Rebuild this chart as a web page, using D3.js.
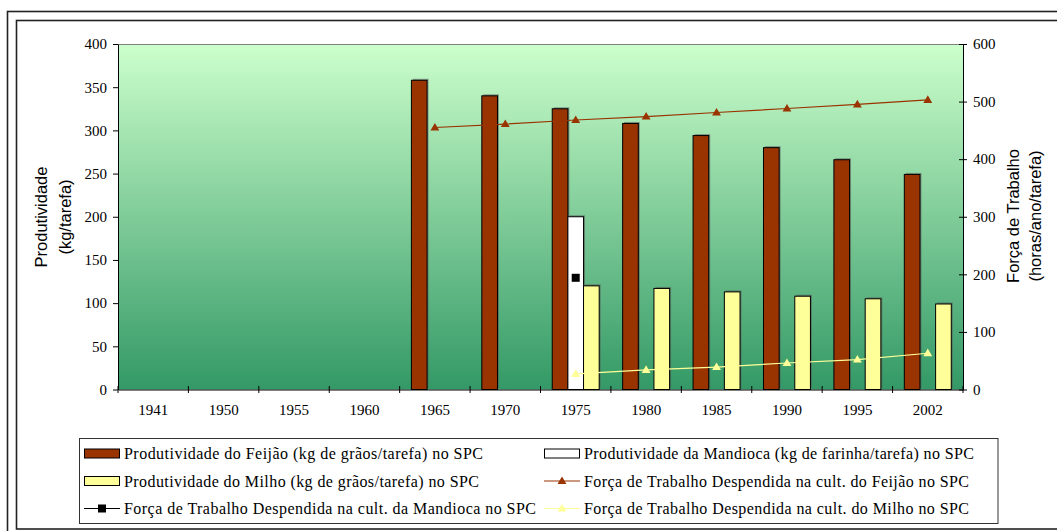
<!DOCTYPE html>
<html>
<head>
<meta charset="utf-8">
<script src="https://cdn.jsdelivr.net/npm/d3@7"></script>
<style>
  body { margin: 0; background: #fff; }
  svg { display: block; }
  .tick text { font-family: "Liberation Serif", "Times New Roman", serif; font-size: 15px; fill: #000; }
  .axis path, .axis line { stroke: #000; }
  .legend text { font-family: "Liberation Serif", "Times New Roman", serif; font-size: 16px; fill: #000; }
  .title { font-family: "Liberation Sans", Arial, sans-serif; font-size: 16.5px; fill: #000; }
</style>
</head>
<body>
<script>
// categories and values
var years = ["1941", "1950", "1955", "1960", "1965", "1970", "1975", "1980", "1985", "1990", "1995", "2002"];

// kg/tarefa (left axis)
var feijaoProd   = [null, null, null, null, 358, 340, 325, 308, 294, 280, 266, 249];
var mandiocaProd = [null, null, null, null, null, null, 200, null, null, null, null, null];
var milhoProd    = [null, null, null, null, null, null, 120, 117, 113, 108, 105, 99];

// horas/ano/tarefa (right axis)
var feijaoTrab   = [null, null, null, null, 455, 461, 468, 474, 481, 488, 495, 503];
var mandiocaTrab = [null, null, null, null, null, null, 194, null, null, null, null, null];
var milhoTrab    = [null, null, null, null, null, null, 27, 34, 39, 46, 52, 63];

var leftTicks = [0, 50, 100, 150, 200, 250, 300, 350, 400];
var rightTicks = [0, 100, 200, 300, 400, 500, 600];

var W = 1057, H = 531;
var plot = {left: 118, right: 963, top: 44, bottom: 389.5};

var svg = d3.select("body").append("svg")
    .attr("width", W)
    .attr("height", H);

// outer double frame (runs off the right and bottom edge)
svg.append("rect")
    .attr("x", 7.5).attr("y", 11.5)
    .attr("width", 1080).attr("height", 540)
    .attr("fill", "none").attr("stroke", "#222").attr("stroke-width", 1.6);
svg.append("rect")
    .attr("x", 16.5).attr("y", 20.5)
    .attr("width", 1080).attr("height", 508.5)
    .attr("fill", "none").attr("stroke", "#222").attr("stroke-width", 1.6);

var defs = svg.append("defs");
var grad = defs.append("linearGradient")
    .attr("id", "bg")
    .attr("x1", 0).attr("y1", 0).attr("x2", 0).attr("y2", 1);
grad.append("stop").attr("offset", "0%").attr("stop-color", "#ccffcc");
grad.append("stop").attr("offset", "100%").attr("stop-color", "#339966");

// scales
var x0 = d3.scaleBand()
    .domain(years)
    .range([plot.left, plot.right])
    .padding(0);

var bw = x0.bandwidth();
var x1 = d3.scaleBand()
    .domain(["feijao", "mandioca", "milho"])
    .range([bw / 6, bw * 5 / 6]);

var y = d3.scaleLinear()
    .domain([0, 400])
    .range([plot.bottom, plot.top]);

var y2 = d3.scaleLinear()
    .domain([0, 600])
    .range([plot.bottom, plot.top]);

// plot background
svg.append("rect")
    .attr("x", plot.left).attr("y", plot.top)
    .attr("width", plot.right - plot.left)
    .attr("height", plot.bottom - plot.top)
    .attr("fill", "url(#bg)");
svg.append("line")
    .attr("x1", plot.left).attr("x2", plot.right)
    .attr("y1", plot.top + 0.5).attr("y2", plot.top + 0.5)
    .attr("stroke", "#808080");

// bars
var barSeries = [
  {key: "feijao", values: feijaoProd, fill: "#993300"},
  {key: "mandioca", values: mandiocaProd, fill: "#ffffff"},
  {key: "milho", values: milhoProd, fill: "#ffff99"}
];

barSeries.forEach(function(s) {
  var pts = years.map(function(yr, i) { return {year: yr, v: s.values[i]}; })
      .filter(function(d) { return d.v != null; });

  // little shadow
  svg.append("g").selectAll("rect")
      .data(pts)
    .enter().append("rect")
      .attr("x", function(d) { return x0(d.year) + x1(s.key) + 1.5; })
      .attr("y", function(d) { return y(d.v) - 1.5; })
      .attr("width", x1.bandwidth())
      .attr("height", function(d) { return plot.bottom - y(d.v); })
      .attr("fill", "#555")
      .attr("opacity", 0.55);

  svg.append("g").selectAll("rect")
      .data(pts)
    .enter().append("rect")
      .attr("x", function(d) { return x0(d.year) + x1(s.key); })
      .attr("y", function(d) { return y(d.v); })
      .attr("width", x1.bandwidth())
      .attr("height", function(d) { return plot.bottom - y(d.v); })
      .attr("fill", s.fill)
      .attr("stroke", "#000")
      .attr("stroke-width", 1);
});

// lines on the right axis
var cx = function(yr) { return x0(yr) + bw / 2; };
var tri = d3.symbol().type(d3.symbolTriangle).size(34);

function drawLine(values, color, marker) {
  var pts = years.map(function(yr, i) { return {year: yr, v: values[i]}; })
      .filter(function(d) { return d.v != null; });
  var line = d3.line()
      .x(function(d) { return cx(d.year); })
      .y(function(d) { return y2(d.v); });
  if (pts.length > 1) {
    svg.append("path")
        .datum(pts)
        .attr("d", line)
        .attr("fill", "none")
        .attr("stroke", color)
        .attr("stroke-width", 1.2);
  }
  if (marker == "triangle") {
    svg.append("g").selectAll("path")
        .data(pts)
      .enter().append("path")
        .attr("d", tri)
        .attr("transform", function(d) { return "translate(" + cx(d.year) + "," + (y2(d.v) + 0.5) + ")"; })
        .attr("fill", color);
  } else {
    svg.append("g").selectAll("rect")
        .data(pts)
      .enter().append("rect")
        .attr("x", function(d) { return cx(d.year) - 4; })
        .attr("y", function(d) { return y2(d.v) - 4; })
        .attr("width", 8).attr("height", 8)
        .attr("fill", color);
  }
}

drawLine(feijaoTrab, "#993300", "triangle");
drawLine(milhoTrab, "#ffff99", "triangle");
drawLine(mandiocaTrab, "#000000", "square");

// axes
var yAxis = d3.axisLeft(y).tickValues(leftTicks).tickSize(5).tickSizeOuter(0).tickPadding(6);
svg.append("g")
    .attr("class", "axis")
    .attr("transform", "translate(" + plot.left + ",0)")
    .call(yAxis);

var y2Axis = d3.axisRight(y2).tickValues(rightTicks).tickSize(4).tickSizeOuter(0).tickPadding(6);
var gy2 = svg.append("g")
    .attr("class", "axis")
    .attr("transform", "translate(" + plot.right + ",0)")
    .call(y2Axis);
gy2.selectAll(".tick line").attr("x1", -4).attr("x2", 4);

var xAxis = d3.axisBottom(x0).tickSize(0).tickSizeOuter(0).tickPadding(14.5);
var gx = svg.append("g")
    .attr("class", "axis")
    .attr("transform", "translate(0," + plot.bottom + ")")
    .call(xAxis);

// tick marks sit on the category borders
var borders = years.map(function(yr) { return x0(yr); }).concat([x0.range()[1]]);
gx.selectAll(".border")
    .data(borders)
  .enter().append("line")
    .attr("class", "border")
    .attr("x1", function(d) { return d; })
    .attr("x2", function(d) { return d; })
    .attr("y1", -3.5).attr("y2", 3.5)
    .attr("stroke", "#000");

// axis titles
svg.append("text")
    .attr("class", "title")
    .attr("transform", "translate(47,217) rotate(-90)")
    .attr("text-anchor", "middle")
    .text("Produtividade");
svg.append("text")
    .attr("class", "title")
    .attr("transform", "translate(71,217) rotate(-90)")
    .attr("text-anchor", "middle")
    .text("(kg/tarefa)");

svg.append("text")
    .attr("class", "title")
    .attr("transform", "translate(1019,216) rotate(-90)")
    .attr("text-anchor", "middle")
    .text("Força de Trabalho");
svg.append("text")
    .attr("class", "title")
    .attr("transform", "translate(1041,216) rotate(-90)")
    .attr("text-anchor", "middle")
    .text("(horas/ano/tarefa)");

// legend
var legendItems = [
  {label: "Produtividade do Feijão (kg de grãos/tarefa)  no SPC", type: "bar", color: "#993300", col: 0, row: 0, len: 359},
  {label: "Produtividade da Mandioca (kg de farinha/tarefa) no SPC", type: "bar", color: "#ffffff", col: 1, row: 0, len: 390},
  {label: "Produtividade do Milho (kg de grãos/tarefa) no SPC", type: "bar", color: "#ffff99", col: 0, row: 1, len: 355},
  {label: "Força de Trabalho Despendida na cult. do Feijão no SPC", type: "tri", color: "#993300", col: 1, row: 1, len: 385},
  {label: "Força de Trabalho Despendida na cult. da Mandioca no SPC", type: "sq", color: "#000000", col: 0, row: 2, len: 412},
  {label: "Força de Trabalho Despendida na cult. do Milho no SPC", type: "tri", color: "#ffff99", col: 1, row: 2, len: 385}
];

var lg = svg.append("g").attr("class", "legend");
lg.append("rect")
    .attr("x", 79.5).attr("y", 438.5)
    .attr("width", 918.5).attr("height", 85)
    .attr("fill", "#fff")
    .attr("stroke", "#333");

var colX = [84, 544];
var rowY = [453.5, 481, 508.5];

var item = lg.selectAll(".item")
    .data(legendItems)
  .enter().append("g")
    .attr("class", "item")
    .attr("transform", function(d) { return "translate(" + colX[d.col] + "," + rowY[d.row] + ")"; });

item.filter(function(d) { return d.type == "bar"; })
  .append("rect")
    .attr("x", 0.5).attr("y", -4.5)
    .attr("width", 35).attr("height", 9)
    .attr("fill", function(d) { return d.color; })
    .attr("stroke", "#000");

item.filter(function(d) { return d.type != "bar"; })
  .append("line")
    .attr("x1", 0).attr("x2", 36)
    .attr("y1", 0).attr("y2", 0)
    .attr("stroke", function(d) { return d.color; })
    .attr("stroke-width", 1.2);

item.filter(function(d) { return d.type == "tri"; })
  .append("path")
    .attr("d", tri)
    .attr("transform", "translate(18,0.5)")
    .attr("fill", function(d) { return d.color; });

item.filter(function(d) { return d.type == "sq"; })
  .append("rect")
    .attr("x", 14).attr("y", -4)
    .attr("width", 8).attr("height", 8)
    .attr("fill", function(d) { return d.color; });

item.append("text")
    .attr("x", 40)
    .attr("dy", "0.35em")
    .attr("textLength", function(d) { return d.len; })
    .attr("lengthAdjust", "spacing")
    .text(function(d) { return d.label; });
</script>
</body>
</html>
